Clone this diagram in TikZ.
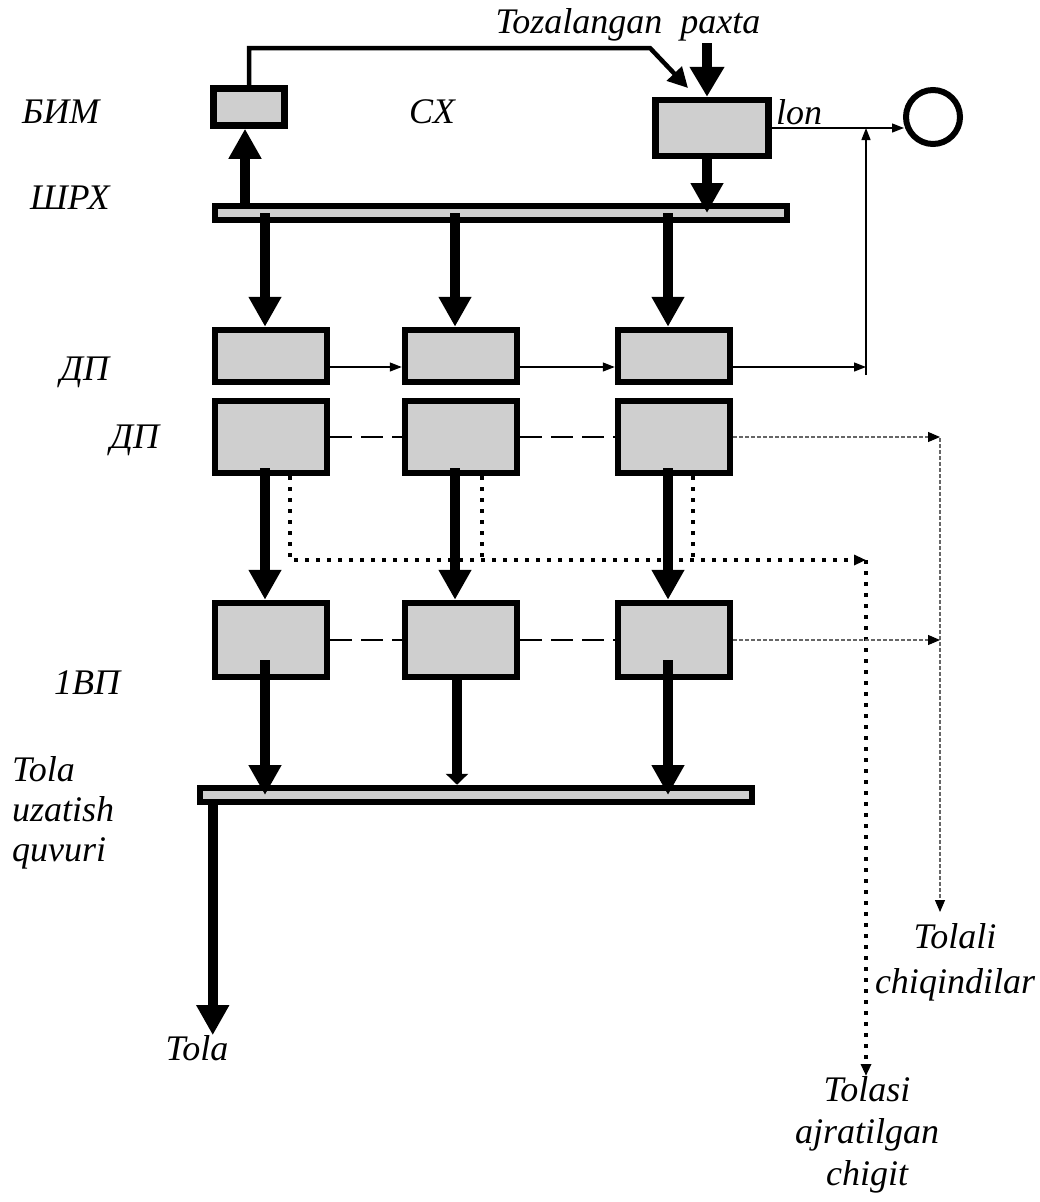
\documentclass[tikz,border=0pt]{standalone}
\usepackage{fontspec}
\setmainfont{Liberation Serif}
\usetikzlibrary{arrows.meta,calc}
\begin{document}
\begin{tikzpicture}[x=1pt,y=-1pt,
  box/.style={draw, line width=6.5pt, fill=black!19, inner sep=0pt},
  lab/.style={font=\fontsize{36}{40}\selectfont\itshape, inner sep=0pt},
  thk/.style={line width=10pt, -{Triangle[length=30pt,width=31pt]}},
  thn/.style={line width=1.3pt, -{Triangle[length=12pt,width=9pt]}},
  dashA/.style={line width=1.2pt, dash pattern=on 22pt off 9pt},
  dashB/.style={line width=1.2pt, black!60, dash pattern=on 4pt off 2pt},
  dotL/.style={line width=4pt, dash pattern=on 3.5pt off 7.5pt},
  smalltip/.style={-{Triangle[length=12pt,width=10pt,black]}},
]
\useasboundingbox (0,0) rectangle (1040,1202);

% boxes
\node[box, minimum width=71pt, minimum height=37pt] (bim) at (249,107) {};
\node[box, minimum width=113pt, minimum height=56pt] (sx) at (712,128) {};
\node[box, minimum width=572pt, minimum height=14pt] (shrx) at (501,213) {};
\node[circle, draw, line width=6pt, minimum size=54pt, inner sep=0pt] (cyc) at (933,117) {};

\foreach \c/\x in {1/271,2/461,3/674}{
  \node[box, minimum width=112pt, minimum height=52pt] (r1c\c) at (\x,356) {};
  \node[box, minimum width=112pt, minimum height=72pt] (r2c\c) at (\x,437) {};
  \node[box, minimum width=112pt, minimum height=74pt] (r3c\c) at (\x,640) {};
}
\node[box, minimum width=552pt, minimum height=14pt] (bar) at (476,795) {};

% labels
\node[lab, anchor=west] (lbim) at (22,112) {БИМ};
\node[lab] (lsx) at (432,112) {СХ};
\node[lab, anchor=west] (llon) at (776,112) {lon};
\node[lab, anchor=west] (lshrx) at (30,198) {ШРХ};
\node[lab, anchor=west] (ldp1) at (60,372) {ДП};
\node[lab, anchor=west] (ldp2) at (110,440) {ДП};
\node[lab, anchor=west] (l1vp) at (54,683) {1ВП};
\node[lab, anchor=north west, align=left] (ltola) at (12,756) {Tola\\uzatish\\quvuri};
\node[lab] (tola) at (197,1048) {Tola};
\node[lab] (paxta) at (628,25) {Tozalangan\ \ paxta};
\node[lab, font=\fontsize{36}{45}\selectfont\itshape, align=center] (chiq) at (955,962) {Tolali\\chiqindilar};
\node[lab, font=\fontsize{36}{42}\selectfont\itshape, align=center, anchor=north] (chig) at (867,1076) {Tolasi\\ajratilgan\\chigit};

% top connectors
\coordinate (c1) at (650,48);
\coordinate (c2) at (688,88);
\draw[line width=4.5pt, -{Triangle[length=20pt,width=20pt]}] (bim.north) |- (c1) -- (c2);
\coordinate (pin) at (707,43);
\draw[line width=10pt, -{Triangle[length=30pt,width=33pt]}] (pin) -- ([xshift=-5pt]sx.north);
\draw[thk] ([xshift=-5pt]sx.south) -- ([xshift=-5pt]sx.south |- shrx.center);
\draw[thk] ([xshift=-4pt]bim.south |- shrx.north) -- ([xshift=-4pt]bim.south);

% bar -> row 1
\foreach \c in {1,2,3}{
  \draw[thk] ([xshift=-6pt]r1c\c.north |- shrx.center) -- ([xshift=-6pt]r1c\c.north);
}

% row 1 thin arrows
\draw[thn] ([yshift=-11pt]r1c1.east) -- ([yshift=-11pt]r1c2.west);
\draw[thn] ([yshift=-11pt]r1c2.east) -- ([yshift=-11pt]r1c3.west);
\coordinate (j) at (866,375);
\draw[thn] ([yshift=-11pt]r1c3.east) -- ([yshift=-11pt]r1c3.east -| j);
\draw[thn] (j) -- (j |- sx.east);
\draw[thn] (sx.east) -- ([xshift=1pt]sx.east -| cyc.west);

% row 2 dashed
\draw[dashA] (r2c1.east) -- (r2c2.west);
\draw[dashA] (r2c2.east) -- (r2c3.west);
\coordinate (k) at (940,438);
\coordinate (k2) at (940,912);
\draw[dashB, smalltip] (r2c3.east) -- (r2c3.east -| k);
\draw[dashB, smalltip] (k) -- (k2);

% row 2 -> row 3
\foreach \c in {1,2,3}{
  \draw[thk] ([xshift=-6pt,yshift=8pt]r2c\c.south) -- ([xshift=-6pt]r3c\c.north);
}

% dotted lines
\coordinate (dd) at (866,560);
\draw[dotL, smalltip] ([xshift=19pt]r2c1.south) |- (dd);
\draw[dotL] ([xshift=21pt]r2c2.south) -- ([xshift=21pt]r2c2.south |- dd);
\draw[dotL] ([xshift=19pt]r2c3.south) -- ([xshift=19pt]r2c3.south |- dd);
\draw[dotL, smalltip] (dd) -- (dd |- chig.north);

% row 3 dashed
\draw[dashA] (r3c1.east) -- (r3c2.west);
\draw[dashA] (r3c2.east) -- (r3c3.west);
\draw[dashB, smalltip] (r3c3.east) -- (r3c3.east -| k);

% row 3 -> bar
\draw[thk] ([xshift=-6pt,yshift=20pt]r3c1.south) -- ([xshift=-6pt]r3c1.south |- bar.center);
\draw[line width=10pt, -{Triangle[length=11pt,width=22pt]}] ([xshift=-4pt]r3c2.south) -- ([xshift=-4pt]r3c2.south |- bar.north);
\draw[thk] ([xshift=-6pt,yshift=20pt]r3c3.south) -- ([xshift=-6pt]r3c3.south |- bar.center);

% bar -> Tola
\draw[thk] ([xshift=16pt]bar.south west) -- ([xshift=16pt]bar.south west |- tola.north);
\end{tikzpicture}
\end{document}
